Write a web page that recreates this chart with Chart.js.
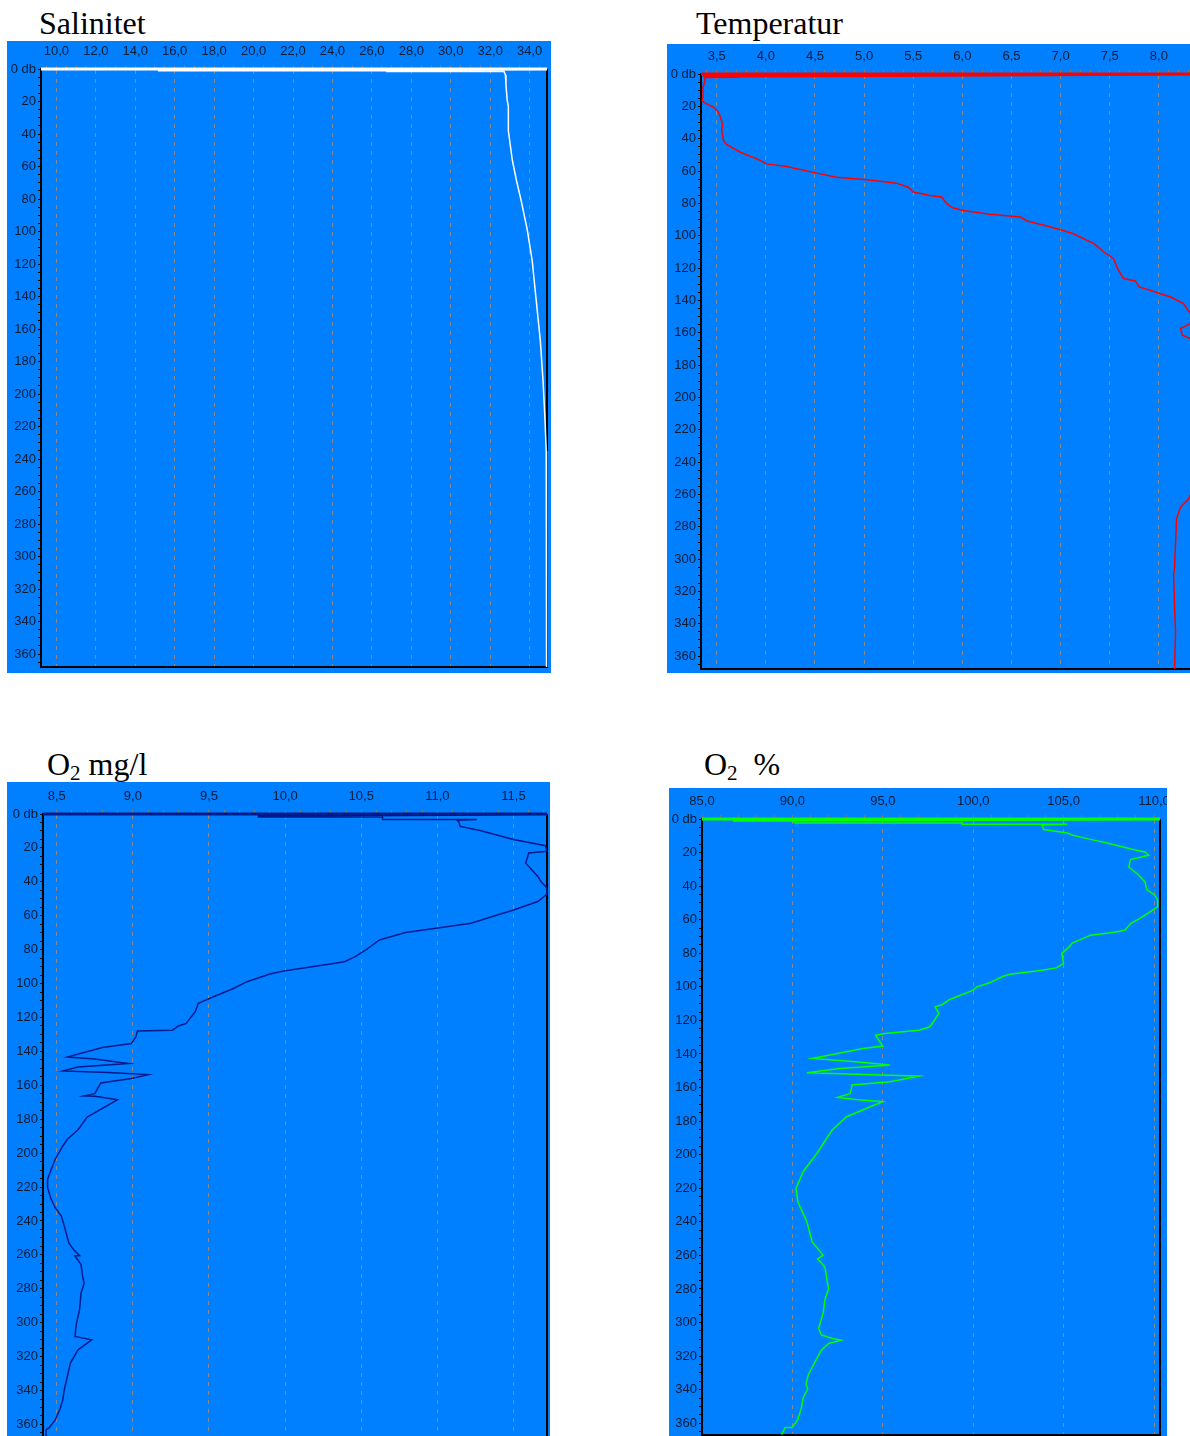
<!DOCTYPE html>
<html>
<head>
<meta charset="utf-8">
<script src="https://cdn.jsdelivr.net/npm/chart.js@4.4.1/dist/chart.umd.min.js"></script>
<style>
  html, body { margin: 0; padding: 0; background: #fff; width: 1190px; height: 1436px; overflow: hidden; }
  .panel { position: absolute; background: #0080ff; }
  .title { position: absolute; font-family: 'Liberation Serif', 'Times New Roman', serif; font-size: 32px; line-height: 32px; color: #000; white-space: pre; }
  .title sub { font-size: 21px; vertical-align: -5px; line-height: 0; }
</style>
</head>
<body>
<div class="title" style="left:39px;top:7px">Salinitet</div>
<div class="title" style="left:696px;top:7px">Temperatur</div>
<div class="title" style="left:47px;top:748px">O<sub>2</sub> mg/l</div>
<div class="title" style="left:704px;top:748px">O<sub>2</sub>&nbsp; %</div>

<canvas id="salinitet" class="panel" width="544" height="632" style="left:7px;top:41px"></canvas>
<canvas id="temperatur" class="panel" width="541" height="629" style="left:667px;top:44px"></canvas>
<canvas id="oxMg" class="panel" width="543" height="660" style="left:7px;top:782px"></canvas>
<canvas id="oxPct" class="panel" width="498" height="652" style="left:669px;top:788px"></canvas>

<script>
// dybde (db) og verdier, lest av figuren
const salDepth = [0, 0, 0.6, 0.6, 1.0, 1.0, 3.5, 10, 19, 23, 38, 56, 68, 81, 99, 118, 142, 167, 192, 216, 235, 260, 300, 340, 368];
const salValue = [9.22, 34.88, 15.15, 26.8, 26.8, 32.68, 32.77, 32.8, 32.86, 32.92, 32.92, 33.12, 33.32, 33.57, 33.88, 34.13, 34.33, 34.54, 34.68, 34.78, 34.84, 34.85, 34.86, 34.86, 34.86];
const salTicks = [10, 12, 14, 16, 18, 20, 22, 24, 26, 28, 30, 32, 34];

const tempDepth = [0, 0, 1.2, 1.2, 2, 2.2, 4.5, 8, 14, 16.5, 17.5, 20.6, 23.7, 30.9, 35, 41.2, 43.6, 48.4, 52.5, 55.6, 57.2, 61.3, 63.8, 65.4, 67.5, 70, 73, 75.1, 76.1, 80.2, 82.9, 84.4, 86.8, 88.5, 90.9, 93.6, 96.3, 98.8, 104.9, 110.1, 114.2, 120.4, 126.5, 128, 131.7, 133.7, 135.8, 137.9, 142, 148, 152, 155, 157.4, 161.5, 163.6, 168, 180, 200, 230, 255, 263, 268, 275, 290, 305, 310, 330, 345, 368];
const tempValue = [3.34, 8.49, 4.14, 3.36, 3.74, 3.38, 3.38, 3.36, 3.36, 3.35, 3.37, 3.47, 3.52, 3.56, 3.55, 3.57, 3.6, 3.74, 3.91, 4.01, 4.21, 4.52, 4.72, 5.03, 5.33, 5.45, 5.5, 5.67, 5.79, 5.84, 5.91, 6.01, 6.28, 6.59, 6.66, 6.83, 7.0, 7.13, 7.34, 7.44, 7.54, 7.58, 7.64, 7.76, 7.8, 7.91, 8.01, 8.12, 8.25, 8.32, 8.36, 8.3, 8.22, 8.24, 8.32, 8.4, 8.43, 8.44, 8.42, 8.36, 8.3, 8.22, 8.18, 8.17, 8.16, 8.15, 8.16, 8.17, 8.16];
const tempTicks = [3.5, 4.0, 4.5, 5.0, 5.5, 6.0, 6.5, 7.0, 7.5, 8.0];

const oxMgDepth = [0, 0, 0.8, 0.8, 1.4, 1.4, 3.2, 3.2, 3.7, 4.5, 7.3, 9.7, 15, 18.7, 22, 23, 29, 36.8, 39.8, 43.7, 47.3, 51.6, 56.6, 64.4, 67.4, 69.9, 74.3, 80.2, 84.1, 87.1, 89.5, 92.6, 94.4, 98.9, 102.9, 107.8, 111.7, 116.6, 123.5, 125, 127.5, 128, 131.4, 135.4, 137.7, 143.3, 144.5, 147.2, 149.2, 151.5, 152.5, 153.7, 156, 158.6, 164.9, 166.3, 166.5, 168.5, 178.7, 186.2, 191.8, 195.8, 203.6, 210.5, 215.5, 220.4, 226.3, 232.2, 237.1, 243, 249.9, 252.9, 256.8, 260.4, 260.6, 265.7, 272.6, 276.9, 282.5, 292.3, 300.2, 308.1, 310.1, 316, 323.8, 331.7, 339.6, 345.5, 351.4, 357.3, 362, 363, 368];
const oxMgValue = [8.41, 11.72, 10.24, 9.97, 9.82, 10.64, 10.64, 11.26, 11.13, 11.14, 11.15, 11.28, 11.5, 11.71, 11.72, 11.6, 11.58, 11.66, 11.68, 11.72, 11.72, 11.66, 11.5, 11.22, 10.99, 10.79, 10.62, 10.53, 10.46, 10.39, 10.22, 9.99, 9.9, 9.75, 9.66, 9.53, 9.43, 9.41, 9.35, 9.3, 9.26, 9.03, 9.02, 8.99, 8.8, 8.57, 8.75, 8.97, 8.64, 8.54, 8.84, 9.1, 8.99, 8.79, 8.75, 8.68, 8.75, 8.9, 8.7, 8.64, 8.57, 8.54, 8.49, 8.46, 8.44, 8.44, 8.46, 8.49, 8.53, 8.55, 8.57, 8.58, 8.61, 8.65, 8.62, 8.66, 8.67, 8.68, 8.66, 8.65, 8.63, 8.62, 8.73, 8.64, 8.59, 8.57, 8.55, 8.54, 8.52, 8.49, 8.45, 8.43, 8.43];
const oxMgTicks = [8.5, 9.0, 9.5, 10.0, 10.5, 11.0, 11.5];

const oxPctDepth = [0, 0, 0.8, 0.8, 2.4, 2.4, 3.2, 3.2, 3.6, 6.3, 8.3, 9.7, 11.7, 14.3, 18.3, 19.6, 21.6, 24.2, 28.6, 32.9, 37.5, 42, 45.4, 48.4, 52.4, 54.4, 59.3, 62.3, 66.3, 67.7, 69.2, 73.8, 76.2, 80.2, 86.1, 88.7, 90.5, 92.5, 94, 97.6, 100, 102, 104.6, 107.5, 110.5, 111.9, 115.9, 120.8, 123.8, 125.8, 127.8, 128.8, 135.3, 136.7, 142.7, 144.6, 146.6, 148.6, 151.2, 152.6, 153.2, 156.5, 158.5, 163.5, 165.9, 167.1, 168.5, 171.4, 177.4, 185.3, 200, 210, 220, 228, 240, 252, 260, 262, 267, 280, 286.3, 294.4, 303.4, 307.4, 309.5, 310.5, 312.5, 316.5, 322.5, 330.6, 336.6, 339.6, 344.7, 350.7, 357.7, 362.4, 362.6, 366.8];
const oxPctValue = [85, 110.33, 86.7, 90.0, 90.15, 99.4, 99.4, 105.2, 103.8, 103.9, 105.2, 105.5, 106.3, 107.4, 108.9, 109.5, 109.7, 108.7, 108.6, 109.1, 109.5, 109.6, 110.05, 110.2, 110.2, 109.9, 109.2, 108.7, 108.4, 107.6, 106.5, 105.5, 105.3, 104.9, 105.0, 104.6, 103.5, 102.0, 101.6, 100.9, 100.2, 100.0, 99.4, 98.7, 98.3, 97.9, 98.1, 97.8, 97.6, 97.0, 95.1, 94.6, 95.0, 93.9, 91.1, 93.5, 95.4, 92.6, 90.8, 95.4, 97.0, 95.4, 93.3, 93.2, 92.5, 93.5, 95.0, 94.3, 93.0, 92.2, 91.3, 90.6, 90.2, 90.3, 90.8, 91.1, 91.7, 91.4, 91.8, 92.0, 91.8, 91.7, 91.45, 91.6, 92.2, 92.7, 92.0, 91.6, 91.3, 90.9, 90.75, 90.85, 90.6, 90.5, 90.3, 90.0, 89.6, 89.4];
const oxPctTicks = [85, 90, 95, 100, 105, 110];

const labelColor = '#0c1a33';
const tickFont = { family: "'Liberation Sans Narrow', 'Liberation Sans', Arial, sans-serif", size: 13 };

// svart ramme til høyre og nederst
const frame = {
    id: 'frame',
    beforeDatasetsDraw(chart) {
        const { ctx, chartArea: a } = chart;
        ctx.save();
        ctx.strokeStyle = '#000';
        ctx.lineWidth = 2;
        ctx.beginPath();
        ctx.moveTo(a.right, a.top);
        ctx.lineTo(a.right, a.bottom);
        ctx.lineTo(a.left, a.bottom);
        ctx.stroke();
        ctx.restore();
    }
};

function profil(id, depths, values, ticks, o) {
    const points = depths.map((d, i) => ({ x: values[i], y: d }));
    const xMinor = [];
    for (let v = Math.ceil(o.xMin / o.minor) * o.minor; v <= o.xMax + 1e-9; v += o.minor) xMinor.push(+v.toFixed(3));
    const yMinor = [];
    for (let d = 0; d <= o.yMax; d += 5) yMinor.push(d);
    const isMajor = v => ticks.some(t => Math.abs(t - v) < 1e-6);

    new Chart(document.getElementById(id), {
        type: 'scatter',
        data: {
            datasets: [{
                data: points,
                showLine: true,
                borderColor: o.color,
                borderWidth: 1.5,
                pointRadius: 0,
                tension: 0,
                clip: false,
                segment: {
                    borderWidth: ctx => (ctx.p0.parsed.y < 1.5 && ctx.p1.parsed.y < 1.5) ? 3 : 1.5
                }
            }]
        },
        options: {
            responsive: false,
            animation: false,
            devicePixelRatio: 1,
            layout: { padding: { left: 0, top: 0, right: o.padRight, bottom: o.padBottom } },
            plugins: { legend: { display: false }, tooltip: { enabled: false } },
            scales: {
                x: {
                    type: 'linear',
                    position: 'top',
                    min: o.xMin,
                    max: o.xMax,
                    afterBuildTicks: s => { s.ticks = xMinor.map(v => ({ value: v })); },
                    afterFit: s => { s.height = o.top; s.paddingLeft = 0; s.paddingRight = 0; },
                    ticks: {
                        autoSkip: false,
                        maxRotation: 0,
                        padding: 6,
                        color: labelColor,
                        font: tickFont,
                        callback: v => isMajor(v) ? v.toFixed(1).replace('.', ',') : ''
                    },
                    grid: {
                        color: ctx => ctx.tick && isMajor(ctx.tick.value) ? '#8a8a8a' : 'rgba(0,0,0,0)',
                        tickColor: '#7a7a7a',
                        tickLength: 4,
                        lineWidth: 1
                    },
                    border: { display: true, color: '#000', width: 1, dash: [4, 5] }
                },
                y: {
                    type: 'linear',
                    reverse: true,
                    min: 0,
                    max: o.yMax,
                    afterBuildTicks: s => { s.ticks = yMinor.map(v => ({ value: v })); },
                    afterFit: s => { s.width = o.left; s.paddingTop = 0; s.paddingBottom = 0; },
                    ticks: {
                        autoSkip: false,
                        padding: 2,
                        color: labelColor,
                        font: tickFont,
                        callback: v => v % 20 ? '' : (v === 0 ? '0 db' : String(v))
                    },
                    grid: { drawOnChartArea: false, tickLength: 3, tickColor: '#000' },
                    border: { display: true, color: '#000', width: 2 }
                }
            }
        },
        plugins: [frame]
    });
}

profil('salinitet', salDepth, salValue, salTicks,
    { color: '#ffffff', xMin: 9.22, xMax: 34.88, minor: 0.5, yMax: 368, left: 34, top: 28, padRight: 4, padBottom: 6 });
profil('temperatur', tempDepth, tempValue, tempTicks,
    { color: '#ff0000', xMin: 3.34, xMax: 8.49, minor: 0.1, yMax: 368, left: 34, top: 30, padRight: 1, padBottom: 4 });
profil('oxMg', oxMgDepth, oxMgValue, oxMgTicks,
    { color: '#001a8c', xMin: 8.41, xMax: 11.72, minor: 0.1, yMax: 368, left: 36, top: 32, padRight: 3, padBottom: 4 });
profil('oxPct', oxPctDepth, oxPctValue, oxPctTicks,
    { color: '#00ff00', xMin: 85, xMax: 110.33, minor: 1, yMax: 367, left: 33, top: 31, padRight: 7, padBottom: 5 });
</script>
</body>
</html>
